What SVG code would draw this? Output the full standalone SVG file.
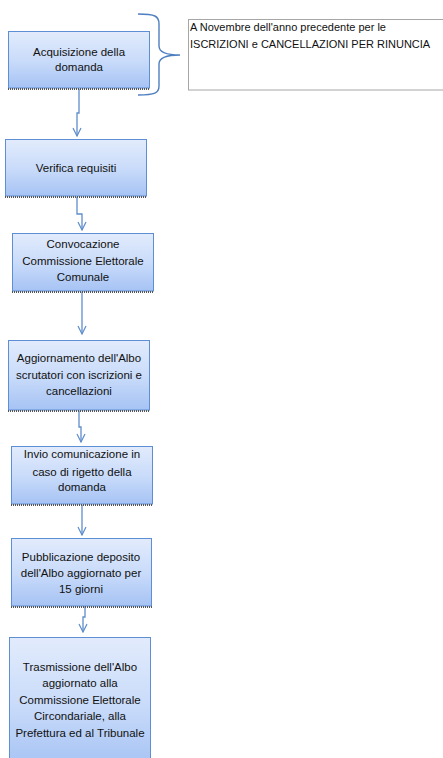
<svg xmlns="http://www.w3.org/2000/svg" width="443" height="758" viewBox="0 0 443 758">
<style>
.box{fill:url(#g);stroke:#5e8fd4;stroke-width:1}
.sh{stroke:#555;stroke-width:2;stroke-dasharray:1 1}
.t{font-family:"Liberation Sans",Arial,sans-serif;font-size:11.5px;fill:#111;text-anchor:middle}
.n{font-family:"Liberation Sans",Arial,sans-serif;font-size:11px;fill:#111}
.c{fill:none;stroke:#5f8dcc;stroke-width:1.3}
</style>
<defs>
<linearGradient id="g" x1="0" y1="0" x2="0" y2="1">
<stop offset="0" stop-color="#e2ebfc"/>
<stop offset="0.5" stop-color="#cadcfa"/>
<stop offset="1" stop-color="#a6c3f4"/>
</linearGradient>
<marker id="a" markerWidth="10" markerHeight="10" refX="9" refY="5" orient="auto" markerUnits="userSpaceOnUse" viewBox="0 0 10 10">
<path d="M1,1 L9,5 L1,9" fill="none" stroke="#5f8dcc" stroke-width="1.2"/>
</marker>
</defs>
<g id="connectors">
<path class="c" d="M79,89 V113 H77 V136" marker-end="url(#a)"/>
<path class="c" d="M77,197 V214 H82 V230" marker-end="url(#a)"/>
<path class="c" d="M82,292 V334" marker-end="url(#a)"/>
<path class="c" d="M79,411 V427 H81 V442" marker-end="url(#a)"/>
<path class="c" d="M82,505 V535" marker-end="url(#a)"/>
<path class="c" d="M85,606 V617 H83 V632" marker-end="url(#a)"/>
<path d="M138,14 C155,14 159,16 159,24 V46 C159,52 165,55 180,55 C165,55 159,58 159,64 V86 C159,93 155,95 138,95" fill="none" stroke="#4f7fc0" stroke-width="1.4"/>
</g>
<g id="note">
<rect x="188.5" y="19.5" width="260" height="70.5" fill="#fff" stroke="#a6a6a6" stroke-width="1"/>
<text class="n" x="190" y="31">A Novembre dell'anno precedente per le</text>
<text class="n" x="190" y="48">ISCRIZIONI e CANCELLAZIONI PER RINUNCIA</text>
</g>
<g id="n1">
<rect class="box" x="8.5" y="31.5" width="141" height="56.5"/>
<line class="sh" x1="8" y1="89" x2="150" y2="89"/>
<text class="t" x="79" y="56">Acquisizione della</text>
<text class="t" x="79" y="71">domanda</text>
</g>
<g id="n2">
<rect class="box" x="5.5" y="139.5" width="141" height="56.5"/>
<line class="sh" x1="5" y1="197" x2="147" y2="197"/>
<text class="t" x="76" y="172">Verifica requisiti</text>
</g>
<g id="n3">
<rect class="box" x="12.5" y="233.5" width="141" height="57.5"/>
<line class="sh" x1="12" y1="292" x2="154" y2="292"/>
<text class="t" x="83" y="248">Convocazione</text>
<text class="t" x="83" y="265">Commissione Elettorale</text>
<text class="t" x="83" y="281">Comunale</text>
</g>
<g id="n4">
<rect class="box" x="8.5" y="340.5" width="141" height="69.5"/>
<line class="sh" x1="8" y1="411" x2="150" y2="411"/>
<text class="t" x="79" y="362">Aggiornamento dell'Albo</text>
<text class="t" x="79" y="379">scrutatori con iscrizioni e</text>
<text class="t" x="79" y="395">cancellazioni</text>
</g>
<g id="n5">
<rect class="box" x="11.5" y="446.5" width="141" height="57.5"/>
<line class="sh" x1="11" y1="505" x2="153" y2="505"/>
<text class="t" x="82" y="458">Invio comunicazione in</text>
<text class="t" x="82" y="476">caso di rigetto della</text>
<text class="t" x="82" y="491">domanda</text>
</g>
<g id="n6">
<rect class="box" x="11.5" y="538.5" width="140" height="67.5"/>
<line class="sh" x1="11" y1="607" x2="152" y2="607"/>
<text class="t" x="81" y="561">Pubblicazione deposito</text>
<text class="t" x="81" y="577">dell'Albo aggiornato per</text>
<text class="t" x="81" y="593">15 giorni</text>
</g>
<g id="n7">
<rect class="box" x="9.5" y="637.5" width="141" height="130"/>
<text class="t" x="80" y="671">Trasmissione dell'Albo</text>
<text class="t" x="80" y="687">aggiornato alla</text>
<text class="t" x="80" y="704">Commissione Elettorale</text>
<text class="t" x="80" y="720">Circondariale, alla</text>
<text class="t" x="80" y="737">Prefettura ed al Tribunale</text>
</g>
</svg>
